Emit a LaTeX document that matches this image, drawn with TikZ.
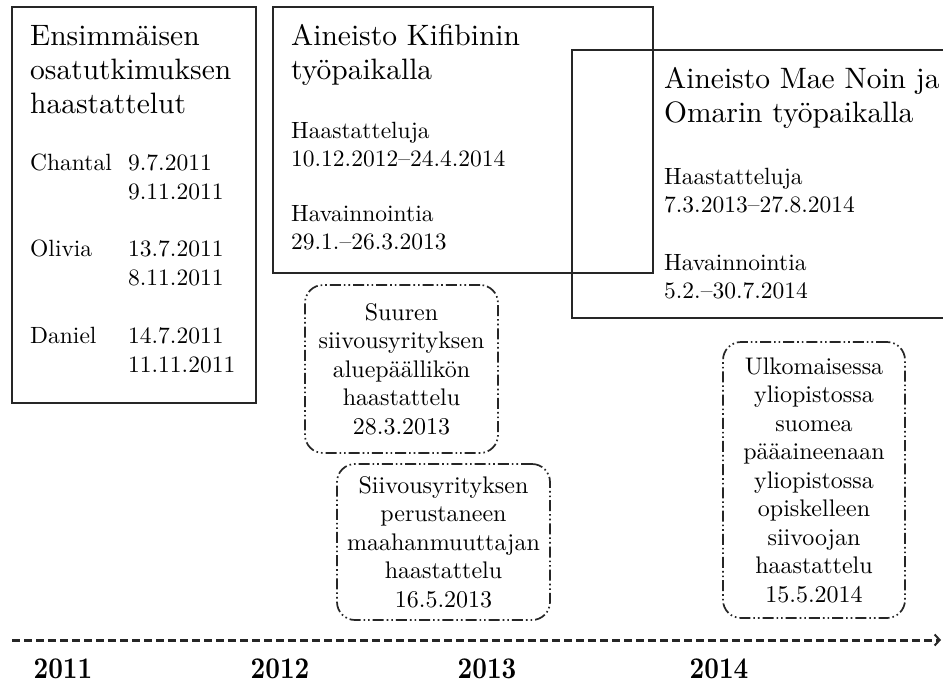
\documentclass[tikz,border=0pt]{standalone}
\usepackage{fontspec}
\usepackage{graphicx}
\setmainfont{lmroman10-regular.otf}[BoldFont=lmroman10-bold.otf]
\usetikzlibrary{arrows.meta}
\newcommand{\yearlabel}[1]{\scalebox{0.85}[1]{#1}}
\begin{document}
\begin{tikzpicture}[x=1pt,y=-1pt,
  studybox/.style={draw=black!85,line width=1.6pt},
  headtext/.style={anchor=base west,inner sep=0pt,font=\fontsize{29.5}{34}\selectfont},
  bodytext/.style={anchor=base west,inner sep=0pt,font=\fontsize{23.5}{28.5}\selectfont},
  noteframe/.style={draw=black!85,line width=1.7pt,rounded corners=18pt,
    dash pattern=on 11pt off 3pt on 1.6pt off 3pt on 1.6pt off 3pt,
    inner sep=0pt,align=center,font=\fontsize{24}{28.5}\selectfont},
  yeartext/.style={anchor=base,inner sep=0pt,font=\fontsize{30}{32}\selectfont\bfseries}]
\clip (0,0) rectangle (943,683);
\fill[white] (0,0) rectangle (943,683);

% first sub-study
\draw[studybox] (12,7) rectangle (256,403);
\node[headtext] (h1a) at (30,45) {Ensimmäisen};
\node[headtext] (h1b) at (30,79) {osatutkimuksen};
\node[headtext] (h1c) at (30,113) {haastattelut};
\node[bodytext] (c1) at (30,170) {Chantal};
\node[bodytext] (c2) at (128,170) {9.7.2011};
\node[bodytext] (c3) at (128,199) {9.11.2011};
\node[bodytext] (o1) at (30,256) {Olivia};
\node[bodytext] (o2) at (128,256) {13.7.2011};
\node[bodytext] (o3) at (128,285) {8.11.2011};
\node[bodytext] (d1) at (30,343) {Daniel};
\node[bodytext] (d2) at (128,343) {14.7.2011};
\node[bodytext] (d3) at (128,372) {11.11.2011};

% Kifibin workplace
\draw[studybox] (273,7) rectangle (653,273);
\node[headtext] (k1) at (291,45) {Aineisto Kifibinin};
\node[headtext] (k2) at (291,79) {työpaikalla};
\node[bodytext] (k3) at (291,138) {Haastatteluja};
\node[bodytext] (k4) at (291,166) {10.12.2012–24.4.2014};
\node[bodytext] (k5) at (291,221) {Havainnointia};
\node[bodytext] (k6) at (291,249) {29.1.–26.3.2013};

% Mae Noi and Omar workplace
\draw[studybox] (572,50) rectangle (960,318);
\node[headtext] (m1) at (664,88) {Aineisto Mae Noin ja};
\node[headtext] (m2) at (664,122) {Omarin työpaikalla};
\node[bodytext] (m3) at (664,184) {Haastatteluja};
\node[bodytext] (m4) at (664,212) {7.3.2013–27.8.2014};
\node[bodytext] (m5) at (664,270) {Havainnointia};
\node[bodytext] (m6) at (664,298) {5.2.–30.7.2014};

% single interviews
\node[noteframe,minimum width=193pt,minimum height=168pt] (n1) at (401.5,369)
  {Suuren\\siivousyrityksen\\aluepäällikön\\haastattelu\\28.3.2013};
\node[noteframe,minimum width=213pt,minimum height=156pt] (n2) at (443.5,542)
  {Siivousyrityksen\\perustaneen\\maahanmuuttajan\\haastattelu\\16.5.2013};
\node[noteframe,minimum width=182pt,minimum height=276pt] (n3) at (814,480)
  {Ulkomaisessa\\yliopistossa\\suomea\\pääaineenaan\\yliopistossa\\opiskelleen\\siivoojan\\haastattelu\\15.5.2014};

% time axis
\coordinate (t0) at (12,640);
\coordinate (t1) at (941,640);
\draw[black!85,line width=3pt,dash pattern=on 8pt off 4pt,
  -{Straight Barb[length=5pt,width=11pt,line width=2pt]}] (t0) -- (t1);
\node[yeartext] (y1) at (63,678) {\yearlabel{2011}};
\node[yeartext] (y2) at (280,678) {\yearlabel{2012}};
\node[yeartext] (y3) at (487,678) {\yearlabel{2013}};
\node[yeartext] (y4) at (719,678) {\yearlabel{2014}};
\end{tikzpicture}
\end{document}
